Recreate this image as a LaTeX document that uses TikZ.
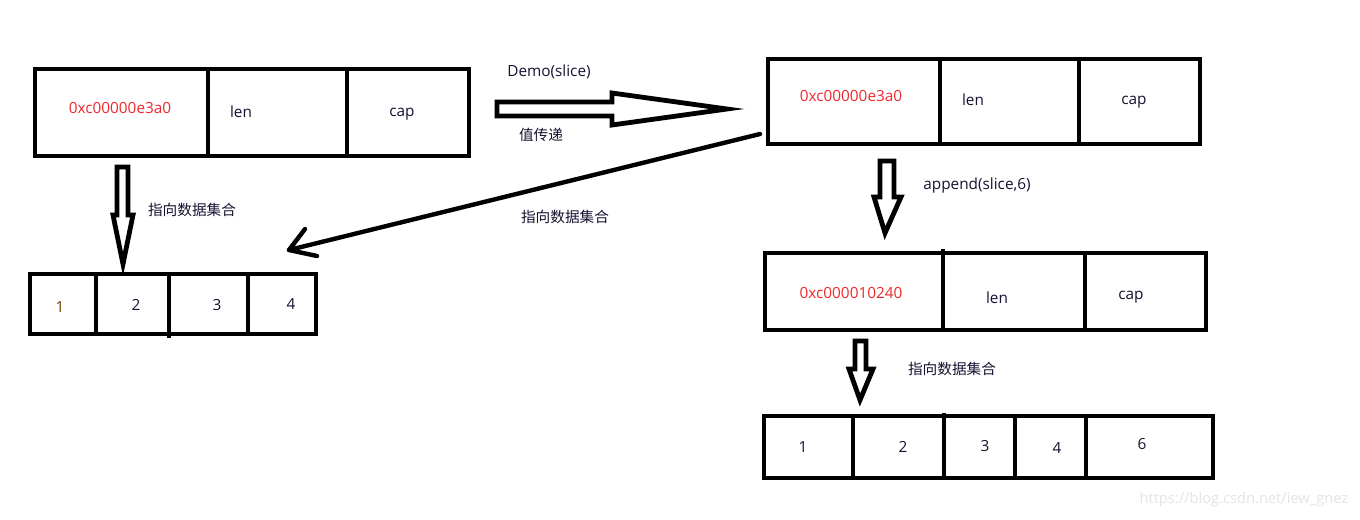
\documentclass[tikz,border=0pt]{standalone}
\usepackage{fontspec}
\setmainfont{Open Sans}
\newfontfamily\cjk{Noto Sans CJK SC}
\definecolor{addr}{HTML}{F0282D}
\definecolor{ink}{HTML}{141432}
\definecolor{brn}{HTML}{7A3A00}
\definecolor{wm}{HTML}{E4E4E4}
\begin{document}
\begin{tikzpicture}[x=0.75pt,y=-0.75pt,
  box/.style={line width=3.6pt, line join=miter},
  blk/.style={line width=3.6pt, line join=miter, fill=white},
  lbl/.style={font=\fontsize{11.5}{13}\selectfont, text=ink, inner sep=0pt},
  addrlbl/.style={lbl, text=addr},
  zh/.style={font=\cjk\fontsize{11}{13}\selectfont, text=ink, inner sep=0pt}]
\useasboundingbox[fill=white] (0,0) rectangle (1360,519);

% ---- box A (top left)
\coordinate (A1) at (35,69); \coordinate (A2) at (469,156);
\draw[box] (A1) rectangle (A2);
\draw[box] (208,69) -- (208,156);
\draw[box] (347,69) -- (347,158);
\node[addrlbl] (aAddr) at (120,108) {0xc00000e3a0};
\node[lbl] (aLen) at (241,112) {len};
\node[lbl] (aCap) at (402,114) {cap};

% ---- box B (top right)
\coordinate (B1) at (768,59); \coordinate (B2) at (1200,144);
\draw[box] (B1) rectangle (B2);
\draw[box] (940,59) -- (940,144);
\draw[box] (1079,59) -- (1079,146);
\node[addrlbl] (bAddr) at (851,96) {0xc00000e3a0};
\node[lbl] (bLen) at (973,100) {len};
\node[lbl] (bCap) at (1134,102) {cap};

% ---- box C (middle right)
\coordinate (C1) at (765,253); \coordinate (C2) at (1206,330);
\draw[box] (C1) rectangle (C2);
\draw[box] (943,249) -- (943,330);
\draw[box] (1085,253) -- (1085,330);
\node[addrlbl] (cAddr) at (851,293) {0xc000010240};
\node[lbl] (cLen) at (997,298) {len};
\node[lbl] (cCap) at (1131,297) {cap};

% ---- box D (bottom left)
\coordinate (D1) at (30,274); \coordinate (D2) at (316,334);
\draw[box] (D1) rectangle (D2);
\draw[box] (96,274) -- (96,334);
\draw[box] (169,274) -- (169,338);
\draw[box] (248,274) -- (248,334);
\node[lbl, text=brn] (d1) at (60,307) {1};
\node[lbl] (d2) at (136,305) {2};
\node[lbl] (d3) at (217,305) {3};
\node[lbl] (d4) at (291,304) {4};

% ---- box E (bottom right)
\coordinate (E1) at (764,416); \coordinate (E2) at (1213,478);
\draw[box] (E1) rectangle (E2);
\draw[box] (853,416) -- (853,478);
\draw[box] (944,413) -- (944,478);
\draw[box] (1015,416) -- (1015,478);
\draw[box] (1086,416) -- (1086,478);
\node[lbl] (e1) at (803,447) {1};
\node[lbl] (e2) at (903,447) {2};
\node[lbl] (e3) at (985,446) {3};
\node[lbl] (e4) at (1057,448) {4};
\node[lbl] (e6) at (1142,444) {6};

% ---- block arrows
\draw[blk] (497,102) -- (612,102) -- (612,93) -- (727,109) -- (612,125) -- (612,116) -- (497,116) -- cycle;
\draw[blk] (117,167) -- (128,167) -- (128,215) -- (133,215) -- (123,264) -- (113,215) -- (117,215) -- cycle;
\draw[blk] (880,161) -- (894,161) -- (894,197) -- (901,197) -- (885,233) -- (874,197) -- (880,197) -- cycle;
\draw[blk] (855,341) -- (866,341) -- (866,369) -- (873,369) -- (860,400) -- (849,369) -- (855,369) -- cycle;

% ---- line arrow from B to D
\coordinate (ls) at (760,134);
\coordinate (lt) at (289,250);
\draw[line width=3.3pt, line cap=round] (ls) -- (lt);
\draw[line width=3.3pt, line cap=round, line join=round] (305,229) -- (lt) -- (317,256);

% ---- labels
\node[lbl] (demo) at (549,72) {Demo(slice)};
\node[zh] (pass) at (541,135) {值传递};
\node[zh] (ptrA) at (192,210) {指向数据集合};
\node[zh] (ptrB) at (565,217) {指向数据集合};
\node[lbl] (app) at (977,186) {append(slice,6)};
\node[zh] (ptrC) at (952,369) {指向数据集合};
\node[font=\fontsize{11}{13}\selectfont, text=wm, inner sep=0pt] (wmark) at (1244,500) {https://blog.csdn.net/iew\_gnez};
\end{tikzpicture}
\end{document}
